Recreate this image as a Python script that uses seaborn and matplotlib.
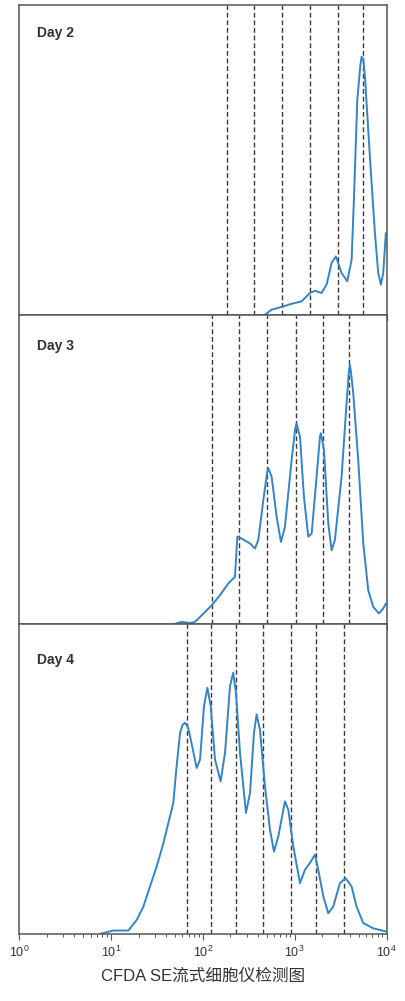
import numpy as np
import pandas as pd
import matplotlib
matplotlib.use("Agg")
import matplotlib.pyplot as plt
from matplotlib.ticker import LogLocator, NullFormatter
import seaborn as sns

# 数据：荧光强度(log10) 与 细胞计数(%)
day2_log = [2.677, 2.749, 2.858, 2.967, 3.076, 3.166, 3.221, 3.293, 3.348, 3.402,
            3.449, 3.511, 3.573, 3.620, 3.645, 3.682, 3.715, 3.729, 3.747, 3.765,
            3.783, 3.826, 3.874, 3.910, 3.939, 3.964, 3.993]
day2_cnt = [0.0, 1.6, 2.5, 3.5, 4.3, 7.0, 7.7, 7.0, 9.7, 16.7,
            18.8, 13.4, 10.8, 17.7, 37.1, 69.4, 80.5, 83.3, 82.5, 77.0,
            68.3, 47.8, 26.3, 13.4, 9.7, 13.4, 26.3]

day3_log = [1.679, 1.770, 1.861, 1.915, 1.988, 2.096, 2.187, 2.278, 2.350, 2.376,
            2.441, 2.514, 2.568, 2.604, 2.659, 2.700, 2.713, 2.749, 2.804, 2.851, 2.894,
            2.967, 3.005, 3.021, 3.058, 3.101, 3.148, 3.185, 3.239, 3.275, 3.286, 3.319, 3.366,
            3.402, 3.438, 3.511, 3.565, 3.590, 3.602, 3.615, 3.638, 3.692, 3.747, 3.801, 3.856,
            3.917, 3.964, 3.993]
day3_cnt = [0.0, 0.8, 0.4, 0.8, 2.9, 6.1, 9.4, 13.2, 15.3, 28.3,
            27.4, 26.1, 24.5, 27.2, 40.1, 49.0, 50.4, 47.7, 34.7, 26.6, 31.5,
            53.1, 63.0, 64.9, 60.6, 41.2, 28.3, 29.3, 47.7, 60.5, 61.7, 56.3, 32.6,
            23.9, 27.2, 47.7, 71.4, 81.5, 83.8, 81.0, 74.6, 53.1, 26.1, 11.0, 5.6,
            3.5, 5.1, 6.7]

day4_log = [0.881, 1.026, 1.190, 1.280, 1.353, 1.425, 1.498, 1.571, 1.643, 1.679,
            1.708, 1.752, 1.780, 1.806, 1.835, 1.861, 1.933, 1.970, 2.013, 2.050, 2.086, 2.133,
            2.194, 2.242, 2.296, 2.332, 2.361, 2.405, 2.470, 2.514, 2.557, 2.586,
            2.622, 2.677, 2.731, 2.775, 2.822, 2.894, 2.931, 2.985, 3.058, 3.112,
            3.166, 3.221, 3.257, 3.312, 3.366, 3.420, 3.493, 3.555, 3.620, 3.674,
            3.747, 3.856, 3.993]
day4_cnt = [0.0, 1.1, 1.1, 4.5, 8.8, 15.3, 21.8, 29.3, 38.0, 42.3,
            52.0, 64.9, 67.5, 68.2, 67.0, 63.9, 53.6, 56.3, 73.6, 79.5, 73.6, 56.3,
            49.3, 58.5, 80.0, 84.4, 77.9, 58.5, 39.1, 45.5, 64.9, 70.9,
            66.0, 47.7, 33.7, 26.6, 31.5, 42.8, 40.1, 28.3, 16.4, 20.7,
            22.9, 25.6, 20.7, 12.1, 6.7, 8.8, 16.4, 18.0, 15.3, 8.8,
            3.5, 1.8, 0.8]

# 每一代细胞的分界线位置
day2_gates = [182, 361, 733, 1467, 2938, 5575]
day3_gates = [126, 250, 500, 1025, 2047, 3927]
day4_gates = [67, 123, 228, 455, 912, 1692, 3438]

panels = [
    ("Day 2", day2_log, day2_cnt, day2_gates, 0.91),
    ("Day 3", day3_log, day3_cnt, day3_gates, 0.90),
    ("Day 4", day4_log, day4_cnt, day4_gates, 0.885),
]

sns.set_style("white")
plt.rcParams['font.family'] = ['Liberation Sans', 'Noto Sans CJK SC', 'DejaVu Sans']

fig = plt.figure(figsize=(4.06, 10.01), dpi=100)
gs = fig.add_gridspec(3, 1, left=0.047, right=0.952, top=0.995, bottom=0.067, hspace=0)

line_color = "#3584c4"
edge_color = "#555555"

for i, (titulo, xs_log, cnt, gates, ty) in enumerate(panels):
    ax = fig.add_subplot(gs[i])
    df = pd.DataFrame({"x": 10 ** np.array(xs_log), "y": cnt})
    sns.lineplot(data=df, x="x", y="y", ax=ax, color=line_color, linewidth=1.4,
                 sort=False, estimator=None)
    for g in gates:
        ax.axvline(g, color="#3a3a3a", linestyle=(0, (3.5, 2)), linewidth=1.0, zorder=1)
    ax.set_xscale("log")
    ax.set_xlim(1, 10000)
    ax.set_ylim(0, 100)
    ax.set_yticks([])
    ax.set_xlabel("")
    ax.set_ylabel("")
    ax.xaxis.set_major_locator(LogLocator(base=10, numticks=10))
    ax.xaxis.set_minor_locator(LogLocator(base=10, subs=np.arange(2, 10), numticks=10))
    ax.xaxis.set_minor_formatter(NullFormatter())
    ax.tick_params(axis="x", which="major", direction="out", length=4, width=0.8,
                   color=edge_color, bottom=True, labelsize=9, labelcolor="#333333")
    ax.tick_params(axis="x", which="minor", direction="out", length=2.5, width=0.7,
                   color=edge_color, bottom=True)
    for s in ax.spines.values():
        s.set_color(edge_color)
        s.set_linewidth(1.1)
    if i < 2:
        ax.tick_params(axis="x", which="both", labelbottom=False)
    ax.text(0.048, ty, titulo, transform=ax.transAxes, fontsize=10, fontweight="bold",
            color="#333333", ha="left", va="center")

ax.set_xlabel("CFDA SE流式细胞仪检测图", fontsize=12, color="#333333", labelpad=6)

fig.savefig("out.png", dpi=100)
